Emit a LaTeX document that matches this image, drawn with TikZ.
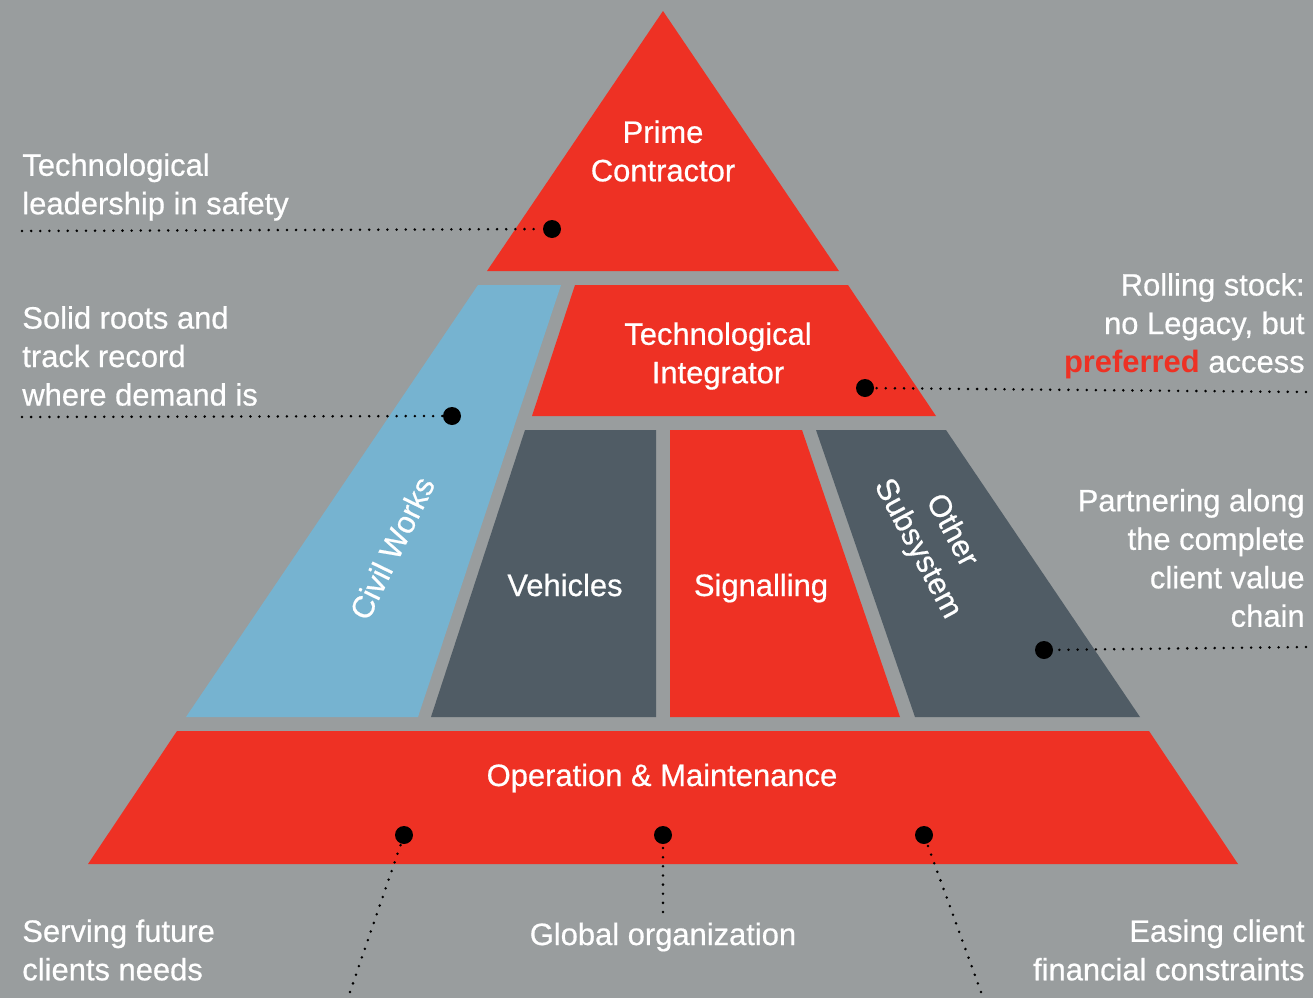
\documentclass[tikz,border=0pt]{standalone}
\usepackage{fontspec}
\setmainfont{Liberation Sans}[UprightFeatures={FakeBold=0.6}]
\definecolor{bggray}{RGB}{153,157,158}
\definecolor{pyrred}{RGB}{238,49,36}
\definecolor{pyrblue}{RGB}{118,179,208}
\definecolor{pyrdark}{RGB}{80,92,101}

\begin{document}
\begin{tikzpicture}[x=0.02cm, y=-0.02cm,
  lbl/.style={text=white, inner sep=0pt, font=\fontsize{17.6}{21.9}\selectfont},
  dotmark/.style={circle, fill=black, inner sep=0pt, minimum size=0.36cm},
  dotline/.style={line width=1.6pt, line cap=round, dash pattern=on 0pt off 5.2pt}]

% background
\useasboundingbox (0,0) rectangle (1313,998);
\fill[bggray] (0,0) rectangle (1313,998);

% Pyramid blocks
\fill[pyrred] (663,11) -- (839,271) -- (487,271) -- cycle;
\fill[pyrblue] (478,285) -- (561,285) -- (418,717) -- (186,717) -- cycle;
\fill[pyrred] (575,285) -- (848,285) -- (936,416) -- (532,416) -- cycle;
\fill[pyrdark] (525,430) -- (656,430) -- (656,717) -- (431,717) -- cycle;
\fill[pyrred] (670,430) -- (802,430) -- (900,717) -- (670,717) -- cycle;
\fill[pyrdark] (816,430) -- (946,430) -- (1140,717) -- (915,717) -- cycle;
\fill[pyrred] (177,731) -- (1149,731) -- (1238,864) -- (88,864) -- cycle;

% Block labels
\node[lbl, align=center] (prime) at (663,151) {Prime\\Contractor};
\node[lbl, align=center] (integ) at (718,356) {Technological\\Integrator};
\node[lbl, rotate=64] (civil) at (392,548) {Civil Works};
\node[lbl, anchor=base] (veh) at (565,596) {Vehicles};
\node[lbl, anchor=base] (sig) at (761,596) {Signalling};
\node[lbl, align=center, rotate=-62] (other) at (934,540) {Other\\Subsystem};
\node[lbl, anchor=base] (om) at (662,786) {Operation \& Maintenance};

% Side notes
\node[lbl, align=left, anchor=west] (tSafety) at (22,187) {Technological\\leadership in safety};
\node[lbl, align=left, anchor=west] (tRoots) at (22,356) {Solid roots and\\track record\\where demand is};
\node[lbl, align=right, anchor=east] (tRolling) at (1305,326) {Rolling stock:\\no Legacy, but\\{\color{pyrred}\bfseries preferred} access};
\node[lbl, align=right, anchor=east] (tPartner) at (1305,558) {Partnering along\\the complete\\client value\\chain};
\node[lbl, align=left, anchor=west] (tServe) at (22,950) {Serving future\\clients needs};
\node[lbl, anchor=base] (tGlobal) at (663,945) {Global organization};
\node[lbl, align=right, anchor=east] (tEase) at (1305,950) {Easing client\\financial constraints};

% Dots and dotted leaders
\foreach \n/\x/\y in {Safety/552/229, Roots/452/416, Rolling/865/388, Partner/1044/650,
                      Serve/404/835, Global/663/835, Ease/924/835}
  \node[dotmark] (d\n) at (\x,\y) {};
\foreach \n/\x/\y in {Safety/22/231, Roots/22/417, Rolling/1306/392, Partner/1306/647,
                      Serve/350/992, Global/663/912, Ease/981/992} {
  \coordinate (e\n) at (\x,\y);
  \draw[dotline] (e\n) -- (d\n);
}

\end{tikzpicture}
\end{document}
